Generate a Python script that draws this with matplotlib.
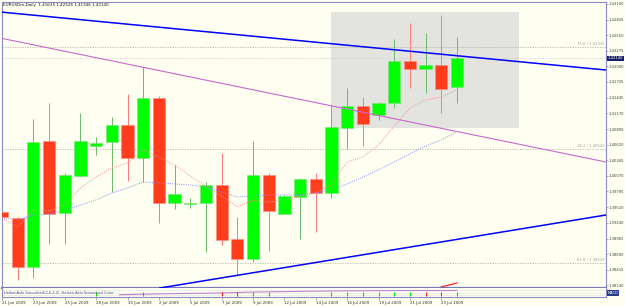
import matplotlib
matplotlib.use("Agg")
import matplotlib.pyplot as plt
from matplotlib.patches import Rectangle
from matplotlib.transforms import blended_transform_factory

# ---------------- data ----------------
dates = ["21 Jun", "22 Jun", "23 Jun", "24 Jun", "25 Jun", "26 Jun", "28 Jun", "29 Jun", "30 Jun",
         "1 Jul", "2 Jul", "3 Jul", "5 Jul", "6 Jul", "7 Jul", "8 Jul", "9 Jul", "10 Jul", "12 Jul",
         "13 Jul", "14 Jul", "15 Jul", "16 Jul", "17 Jul", "19 Jul", "20 Jul", "21 Jul", "22 Jul",
         "23 Jul", "24 Jul"]
opens = [1.39433, 1.39327, 1.38463, 1.40685, 1.39415, 1.40068, 1.40597, 1.40667, 1.40967, 1.40385,
         1.41443, 1.39592, 1.39574, 1.39592, 1.39909, 1.38957, 1.38604, 1.40085, 1.39398, 1.39697,
         1.40015, 1.39768, 1.40914, 1.41302, 1.41143, 1.41355, 1.42095, 1.41954, 1.42025, 1.41635]
highs = [1.39468, 1.39345, 1.41073, 1.41355, 1.40121, 1.41178, 1.40755, 1.41108, 1.41513, 1.41989,
         1.41478, 1.40262, 1.39680, 1.39962, 1.40473, 1.39345, 1.40685, 1.40121, 1.39733, 1.40032,
         1.40121, 1.41319, 1.41619, 1.41460, 1.41373, 1.42483, 1.42765, 1.42589, 1.42906, 1.42526]
lows = [1.39239, 1.38234, 1.38269, 1.38869, 1.38869, 1.40068, 1.40438, 1.39786, 1.39980, 1.39962,
        1.39239, 1.39486, 1.39504, 1.38728, 1.38851, 1.38322, 1.38551, 1.38745, 1.39398, 1.38957,
        1.39080, 1.39680, 1.40544, 1.40597, 1.41055, 1.41267, 1.41619, 1.41531, 1.41178, 1.41346]
closes = [1.39345, 1.38463, 1.40667, 1.39398, 1.40085, 1.40685, 1.40649, 1.40967, 1.40385, 1.41443,
          1.39592, 1.39750, 1.39592, 1.39909, 1.38939, 1.38604, 1.40085, 1.39451, 1.39715, 1.40015,
          1.39768, 1.40932, 1.41302, 1.40984, 1.41355, 1.42095, 1.41954, 1.42025, 1.41601, 1.42140]
ma_fast = [1.39327, 1.39169, 1.39468, 1.39451, 1.39556, 1.39856, 1.40050, 1.40209, 1.40297, 1.40526,
           1.40403, 1.40262, 1.40068, 1.39891, 1.39715, 1.39521, 1.39645, 1.39609, 1.39645, 1.39715,
           1.39768, 1.39909, 1.40314, 1.40403, 1.40614, 1.40949, 1.41267, 1.41408, 1.41460, 1.41584]
ma_slow = [1.39327, 1.39292, 1.39380, 1.39398, 1.39468, 1.39556, 1.39645, 1.39768, 1.39856, 1.39962,
           1.39944, 1.39927, 1.39909, 1.39874, 1.39786, 1.39697, 1.39715, 1.39733, 1.39733, 1.39733,
           1.39768, 1.39821, 1.39927, 1.40050, 1.40173, 1.40314, 1.40456, 1.40597, 1.40702, 1.40843]

price_ticks = [1.43100, 1.42825, 1.42550, 1.42275, 1.42000, 1.41725, 1.41445, 1.41170, 1.40890,
               1.40620, 1.40345, 1.40070, 1.39795, 1.39520, 1.39240, 1.38965, 1.38690, 1.38415, 1.38140]
date_tick_idx = [0, 2, 4, 6, 8, 10, 12, 14, 16, 18, 20, 22, 24, 26, 28]
date_tick_labels = ["21 Jun 2009", "23 Jun 2009", "25 Jun 2009", "28 Jun 2009", "30 Jun 2009",
                    "2 Jul 2009", "5 Jul 2009", "7 Jul 2009", "9 Jul 2009", "12 Jul 2009",
                    "14 Jul 2009", "16 Jul 2009", "19 Jul 2009", "21 Jul 2009", "23 Jul 2009"]

# trend lines: two anchor points each (bar index, price)
trend_upper = [(0.0, 1.42956), (38.5, 1.41936)]
trend_mid = [(0.0, 1.42493), (38.5, 1.40314)]
trend_low = [(10.46, 1.38111), (38.5, 1.39380)]
# fibonacci levels
fib_levels = [1.42342, 1.40544, 1.38534]
fib_labels = ["78.6 / 1.42335", "38.2 / 1.40543", "61.8 / 1.38529"]
bid_price = 1.42140
title = "EURUSDm,Daily  1.41635 1.42526 1.41346 1.42140"
box_x = [20.97, 32.94]
box_y = [1.40907, 1.42959]
small_seg = [(28, 1.38111), (29, 1.38181)]
strip_x = [7.5, 10, 12, 14, 16, 18, 20, 22, 24, 26, 28, 29]
strip_y = [0.25, 0.35, 0.4, 0.45, 0.55, 0.6, 0.65, 0.68, 0.7, 0.72, 0.72, 0.72]
strip_marks = [(6, "g"), (9, "g"), (14, "r"), (15, "r"), (16, "g"), (17, "g"), (21, "g"), (22, "g"),
               (23, "g"), (24, "g"), (25, "g"), (26, "g"), (27, "r"), (28, "r"), (29, "g")]

# ---------------- figure ----------------
BG = "#FEFFF0"
fig = plt.figure(figsize=(6.25, 3.06), dpi=100, facecolor=BG)
W, H = 625.0, 306.0
ax = fig.add_axes([2 / W, 1 - 288 / H, 604 / W, 286 / H], facecolor=BG)
ax.set_xlim(0, 38.5)
ax.set_ylim(1.38093, 1.43135)

# highlight box
ax.add_patch(Rectangle((box_x[0], box_y[0]), box_x[1] - box_x[0], box_y[1] - box_y[0],
                       facecolor="#E3E3DF", edgecolor="none", zorder=0.5))

# fib levels
for lv, lb in zip(fib_levels, fib_labels):
    ax.axhline(lv, color="#B4B4A8", lw=0.6, ls=(0, (1.5, 1.5)), zorder=1)
    ax.text(38.4, lv + 0.00012, lb, fontsize=2.7, color="#A0A0A0", ha="right", va="bottom", zorder=2)
ax.axhline(bid_price, color="#CFCFCF", lw=0.6, ls=(0, (1.5, 1.5)), zorder=1)

# candles
up_c, dn_c = "#00FF00", "#FF3C1C"
for i in range(len(dates)):
    o, h, l, c = opens[i], highs[i], lows[i], closes[i]
    up = c >= o
    ax.vlines(i, l, h, color="#6DB86D" if up else "#FF7A7A", lw=0.7, zorder=2)
    lo, hi = min(o, c), max(o, c)
    ax.bar(i, max(hi - lo, 0.00008), bottom=lo, width=0.78, color=up_c if up else dn_c,
           edgecolor="#7CE07C" if up else "#FF8A7A", linewidth=0.4, zorder=3)

# moving averages
xs = list(range(len(dates)))
ax.plot(xs, ma_fast, color="#FF8C8C", lw=0.7, ls=(0, (1, 1.3)), zorder=4)
ax.plot(xs, ma_slow, color="#8C8CFF", lw=0.7, ls=(0, (1, 1.3)), zorder=4)

# trend lines
ax.axline(trend_mid[0], trend_mid[1], color="#CC66CC", lw=0.8, zorder=5)
ax.axline(trend_upper[0], trend_upper[1], color="#0000FF", lw=1.1, zorder=5)
ax.axline(trend_low[0], trend_low[1], color="#0000FF", lw=1.1, zorder=5)
ax.plot([small_seg[0][0], small_seg[1][0]], [small_seg[0][1], small_seg[1][1]],
        color="#FF2020", lw=0.9, zorder=6, clip_on=False)

# axis styling
for s in ["left", "right", "top"]:
    ax.spines[s].set_color("#8C8CC8")
    ax.spines[s].set_linewidth(0.8)
ax.spines["bottom"].set_color("#7A7AB8")
ax.spines["bottom"].set_linewidth(1.6)
ax.set_xticks([])
ax.yaxis.tick_right()
ax.set_yticks(price_ticks)
ax.set_yticklabels([f"{p:.5f}" for p in price_ticks])
ax.tick_params(axis="y", length=1.5, width=0.5, color="#8C8CC8", labelsize=2.7, pad=0.5,
               labelcolor="#404040")

# current price box
tr = blended_transform_factory(ax.transAxes, ax.transData)
ax.text(1.003, bid_price, f"{bid_price:.5f}", transform=tr, fontsize=2.7, color="white",
        ha="left", va="center", zorder=10,
        bbox=dict(boxstyle="square,pad=0.2", facecolor="#16206A", edgecolor="none"))

# title
ax.text(0.002, 0.995, title, transform=ax.transAxes, fontsize=3, color="#202020",
        ha="left", va="top")

# ---------------- indicator strip ----------------
ax2 = fig.add_axes([2 / W, 1 - 297 / H, 604 / W, 9 / H], facecolor=BG)
ax2.set_xlim(0, 38.5)
ax2.set_ylim(0, 1)
for yy in [0.2, 0.5, 0.8]:
    ax2.axhline(yy, color="#C8C8C8", lw=0.4, ls=(0, (1, 1)))
ax2.plot(strip_x, strip_y, color="#C080D0", lw=0.8)
for i, col in strip_marks:
    ax2.vlines(i, 0.15, 0.6, color="#00DD00" if col == "g" else "#FF2020", lw=0.8)
ax2.text(0.003, 0.5, "HeikenAshi Smoothed(2,6,3,2)  Heiken Ashi Smoothed Color",
         transform=ax2.transAxes, fontsize=2.6, color="#5050A0", ha="left", va="center")
for s in ["left", "right"]:
    ax2.spines[s].set_color("#8C8CC8")
    ax2.spines[s].set_linewidth(0.8)
ax2.spines["top"].set_visible(False)
ax2.spines["bottom"].set_color("#8C8CC8")
ax2.spines["bottom"].set_linewidth(0.8)
ax2.set_yticks([])
ax2.set_xticks(date_tick_idx)
ax2.set_xticklabels(date_tick_labels, ha="left")
ax2.tick_params(axis="x", length=2, width=0.5, color="#8C8CC8", labelsize=2.8, pad=1,
                labelcolor="#303030")
fig.text(608 / W, 1 - 293 / H, "MACD", fontsize=2.6, color="white", ha="left", va="center",
         bbox=dict(boxstyle="square,pad=0.2", facecolor="#2A3A8A", edgecolor="none"))

fig.savefig("out.png", dpi=100, facecolor=BG)
